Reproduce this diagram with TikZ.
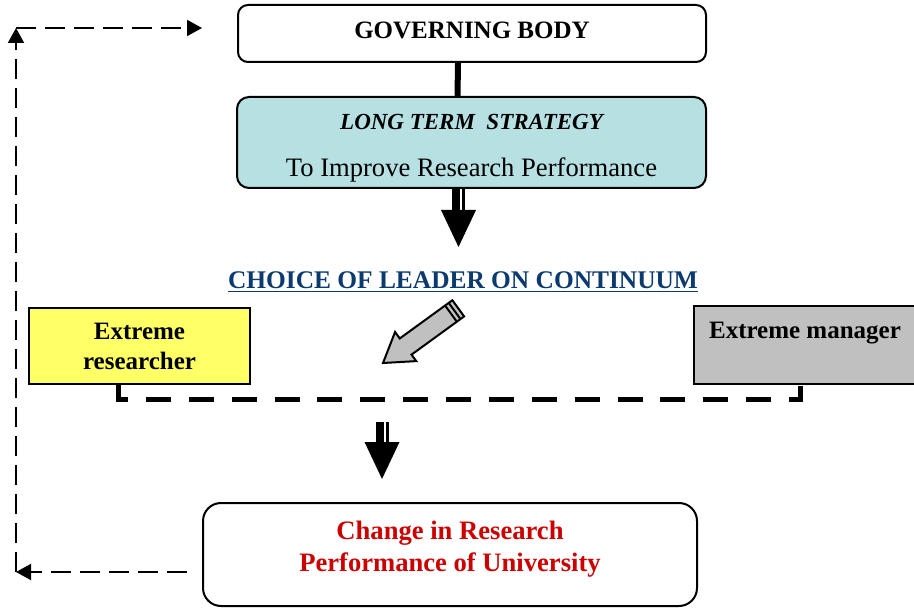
\documentclass[tikz,border=0pt]{standalone}
\usepackage{fontspec}
\setmainfont{Liberation Serif}
\usetikzlibrary{arrows.meta}
\definecolor{strategyfill}{HTML}{B7E0E3}
\definecolor{researchyellow}{HTML}{FFFF66}
\definecolor{managergray}{HTML}{C0C0C0}
\definecolor{choiceblue}{HTML}{0B3A6E}
\definecolor{changered}{HTML}{CC0000}
\newcommand{\bigdown}[3]{%
  \fill (#1-6.5,#2) rectangle (#1+1.5,#3-37);
  \fill (#1+3.5,#2) rectangle (#1+6.5,#3-37);
  \fill (#1-17.5,#3-37) -- (#1+17.5,#3-37) -- (#1,#3) -- cycle;}

\begin{document}
\begin{tikzpicture}
  [x=0.5pt,y=-0.5pt,
   every node/.style={font=\fontsize{12.5}{15}\selectfont\bfseries},
   box/.style={draw,line width=1pt,rounded corners=5pt,inner sep=0pt},
   plain/.style={draw,line width=1pt,inner sep=0pt},
   feedback/.style={line width=1pt,dash pattern=on 10pt off 4.5pt,
     -{Triangle[length=7.5pt,width=8pt]}},
   continuum/.style={line width=2.5pt,dash pattern=on 12.5pt off 8.94pt}]
  \useasboundingbox (0,0) rectangle (914,608);

  \node[box,minimum width=234pt,minimum height=28.5pt,text depth=3pt] (governing) at (472,33.5) {GOVERNING BODY};
  \node[box,fill=strategyfill,rounded corners=6pt,minimum width=234.5pt,minimum height=45.5pt,
    align=center,text height=36.6pt] (strategy) at (471.5,142.5)
    {{\fontsize{11.5}{15}\selectfont\itshape LONG TERM\ \ STRATEGY}\\[8.5pt]{\fontsize{13.3}{15}\selectfont\mdseries To Improve Research Performance}};
  \draw[line width=3pt] ([xshift=-7pt]governing.south) -- ([xshift=-7pt]strategy.north);
  \bigdown{458.5}{188}{247}

  \node[text=choiceblue,font=\fontsize{12.7}{15}\selectfont\bfseries] (choice) at (463,282)
    {\underline{CHOICE OF LEADER ON CONTINUUM}};

  % pointer along the continuum
  \begin{scope}[shift={(383,363)},rotate=216]
    \filldraw[fill=managergray,line width=1pt] (0,0) -- (-28,18) -- (-28,10) -- (-93,10)
      -- (-93,-10) -- (-28,-10) -- (-28,-18) -- cycle;
    \draw[line width=1pt] (-84,10) -- (-84,-10) (-88.5,10) -- (-88.5,-10);
  \end{scope}

  \node[plain,fill=researchyellow,minimum width=110.5pt,minimum height=38pt,align=center]
    (researcher) at (139.5,346) {Extreme\\researcher};
  \node[plain,fill=managergray,minimum width=111pt,minimum height=39pt,align=center]
    (manager) at (805,345) {Extreme manager\\~};
  \draw[continuum] ([xshift=-10.75pt]researcher.south) -- ++(0,15) -| ([xshift=-2.5pt]manager.south);

  \bigdown{382}{422}{479}

  \node[box,rounded corners=9pt,minimum width=247pt,minimum height=51.5pt] (change) at (450,554.5) {};
  \node[text=changered,align=center,font=\fontsize{13.3}{16}\selectfont\bfseries]
    (changetext) at (450,549) {Change in Research\\Performance of University};

  % feedback loop
  \coordinate (loopstart) at (187,572);
  \coordinate (loopcorner) at (16,572);
  \coordinate (looptop) at (16,28);
  \coordinate (loopend) at (202,28);
  \draw[feedback] (loopstart) -- (loopcorner);
  \draw[feedback] (loopcorner) -- (looptop);
  \draw[feedback] (looptop) -- (loopend);
\end{tikzpicture}
\end{document}
